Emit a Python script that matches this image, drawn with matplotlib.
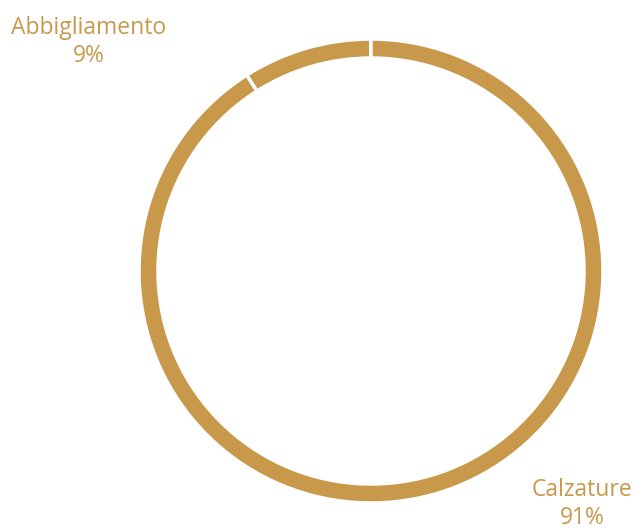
import matplotlib
matplotlib.use("Agg")
import matplotlib.pyplot as plt

categories = ["Abbigliamento", "Calzature"]
shares = [9, 91]
label_text = ["9%", "91%"]

gold = "#C8994B"

fig = plt.figure(figsize=(6.34, 5.3), dpi=100)
# donut centre at (371, 271) px, outer radius 231 px
cx, cy, r = 371, 271, 232
ax = fig.add_axes([(cx - r) / 634, (530 - cy - r) / 530, 2 * r / 634, 2 * r / 530])
ax.pie(shares, colors=[gold, gold], startangle=90, counterclock=True,
       radius=1, wedgeprops=dict(width=19 / 232, edgecolor="white", linewidth=2.5))
ax.set_aspect("equal")
ax.set_xlim(-1, 1)
ax.set_ylim(-1, 1)
ax.axis("off")

plt.rcParams['font.family'] = ['Open Sans', 'DejaVu Sans']
fig.text(89 / 634, 1 - 42 / 530, categories[0] + "\n" + label_text[0], ha="center", va="center",
         color=gold, fontsize=16.5, linespacing=1.2)
fig.text(582 / 634, 1 - 504 / 530, categories[1] + "\n" + label_text[1], ha="center", va="center",
         color=gold, fontsize=16.5, linespacing=1.2)

fig.savefig("out.png", dpi=100)
